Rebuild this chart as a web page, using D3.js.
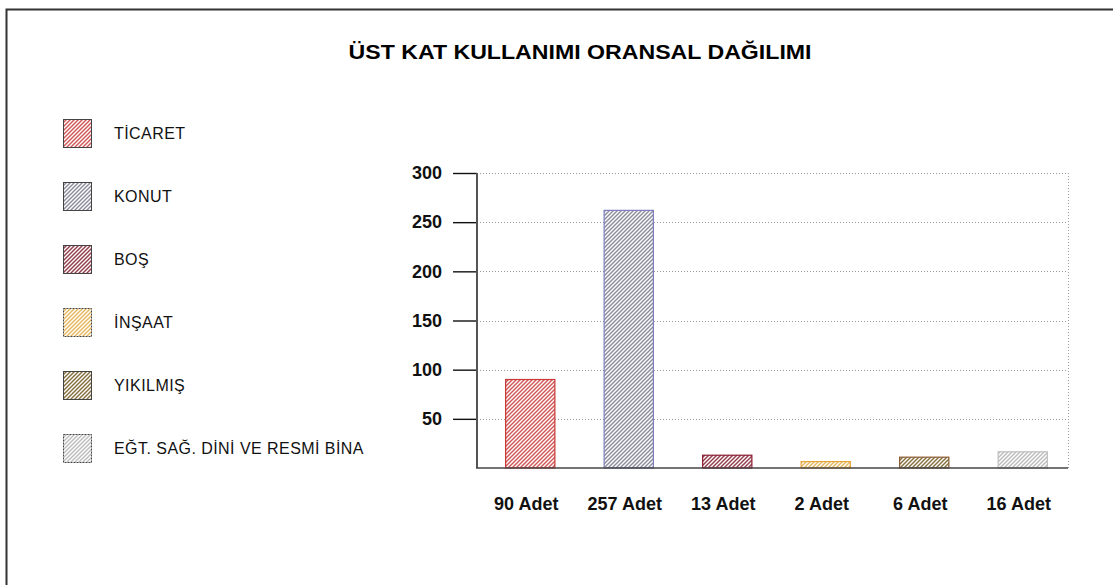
<!DOCTYPE html>
<html>
<head>
<meta charset="utf-8">
<script src="https://cdn.jsdelivr.net/npm/d3@7"></script>
<style>
  body { margin: 0; background: #fff; }
  svg { display: block; font-family: "Liberation Sans", Arial, sans-serif; }
</style>
</head>
<body>
<svg id="chart" width="1113" height="585"></svg>
<script>
// chart values
const categories = ["90 Adet", "257 Adet", "13 Adet", "2 Adet", "6 Adet", "16 Adet"];
const values = [90, 262, 13, 6.5, 11, 16.5];
const legendNames = ["TİCARET", "KONUT", "BOŞ", "İNŞAAT", "YIKILMIŞ", "EĞT. SAĞ. DİNİ VE RESMİ BİNA"];
const yTicks = [50, 100, 150, 200, 250, 300];

const hatchColors = ["#d25a5a", "#8e8e9e", "#94404f", "#e6b860", "#86703f", "#bdbdbd"];
const barStrokes = ["#c83838", "#7c7cc0", "#8c1c30", "#eaa43c", "#8a5a2e", "#c0c0c0"];
const legendDashed = [false, false, false, true, false, true];

const svg = d3.select("#chart");

// hatch patterns
const defs = svg.append("defs");
hatchColors.forEach((c, i) => {
  const p = defs.append("pattern")
      .attr("id", "hatch" + i)
      .attr("patternUnits", "userSpaceOnUse")
      .attr("width", 4)
      .attr("height", 4);
  p.append("rect").attr("width", 4).attr("height", 4).attr("fill", "#fff");
  p.append("path")
      .attr("d", "M-1,1 l2,-2 M0,4 l4,-4 M3,5 l2,-2")
      .attr("stroke", c)
      .attr("stroke-width", 1.5);
});

// outer frame
svg.append("rect")
    .attr("x", 6.5).attr("y", 9.5)
    .attr("width", 1300).attr("height", 800)
    .attr("fill", "none")
    .attr("stroke", "#333")
    .attr("stroke-width", 2);

// title
svg.append("text")
    .attr("x", 580).attr("y", 59)
    .attr("text-anchor", "middle")
    .attr("font-size", 20)
    .attr("font-weight", "bold")
    .attr("textLength", 463)
    .attr("lengthAdjust", "spacingAndGlyphs")
    .text("ÜST KAT KULLANIMI ORANSAL  DAĞILIMI");

// scales
const x = d3.scaleBand()
    .domain(categories)
    .range([477, 1068])
    .paddingInner(0.5)
    .paddingOuter(0.25);

const y = d3.scaleLinear()
    .domain([0, 300])
    .range([468, 173]);

// grid
const grid = svg.append("g");
grid.selectAll("line.h")
  .data(yTicks)
  .join("line")
    .attr("class", "h")
    .attr("x1", 477).attr("x2", 1068)
    .attr("y1", d => Math.round(y(d)) + 0.5)
    .attr("y2", d => Math.round(y(d)) + 0.5)
    .attr("stroke", "#9a9a9a")
    .attr("stroke-dasharray", "1,2");
grid.append("line")
    .attr("x1", 1068.5).attr("x2", 1068.5)
    .attr("y1", y(300)).attr("y2", y(0))
    .attr("stroke", "#9a9a9a")
    .attr("stroke-dasharray", "1,2");

// bars
svg.append("g")
  .selectAll("rect")
  .data(values)
  .join("rect")
    .attr("x", (d, i) => x(categories[i]) + 4)
    .attr("y", d => y(d))
    .attr("width", x.bandwidth())
    .attr("height", d => y(0) - y(d))
    .attr("fill", (d, i) => "url(#hatch" + i + ")")
    .attr("stroke", (d, i) => barStrokes[i])
    .attr("stroke-width", 1.2);

// y axis
const yAxis = svg.append("g")
    .attr("transform", "translate(477,0)")
    .call(d3.axisLeft(y).tickValues(yTicks).tickSize(24).tickPadding(11));
yAxis.select(".domain").remove();
yAxis.selectAll(".tick line").attr("stroke", "#111").attr("stroke-width", 1.4);
yAxis.selectAll(".tick text")
    .attr("font-size", 18)
    .attr("font-weight", "bold")
    .attr("font-family", "Liberation Sans, Arial, sans-serif")
    .attr("fill", "#111");

svg.append("line")
    .attr("x1", 477).attr("x2", 477)
    .attr("y1", y(300)).attr("y2", y(0))
    .attr("stroke", "#555").attr("stroke-width", 2);

// x baseline and labels
svg.append("line")
    .attr("x1", 476).attr("x2", 1068)
    .attr("y1", y(0)).attr("y2", y(0))
    .attr("stroke", "#444").attr("stroke-width", 1.6);

svg.append("g")
  .selectAll("text")
  .data(categories)
  .join("text")
    .attr("x", d => x(d) + x.bandwidth() / 2)
    .attr("y", 510)
    .attr("text-anchor", "middle")
    .attr("font-size", 18)
    .attr("font-weight", "bold")
    .attr("fill", "#111")
    .text(d => d);

// legend
const legend = svg.append("g")
  .selectAll("g")
  .data(legendNames)
  .join("g")
    .attr("transform", (d, i) => `translate(63,${119 + i * 63})`);

legend.append("rect")
    .attr("x", 0.5).attr("y", 0.5)
    .attr("width", 28).attr("height", 28)
    .attr("fill", (d, i) => "url(#hatch" + i + ")")
    .attr("stroke", "#444")
    .attr("stroke-dasharray", (d, i) => legendDashed[i] ? "2,1" : null);

legend.append("text")
    .attr("x", 51)
    .attr("y", 19.5)
    .attr("font-size", 16)
    .attr("letter-spacing", 0.45)
    .attr("fill", "#111")
    .text(d => d);
</script>
</body>
</html>
